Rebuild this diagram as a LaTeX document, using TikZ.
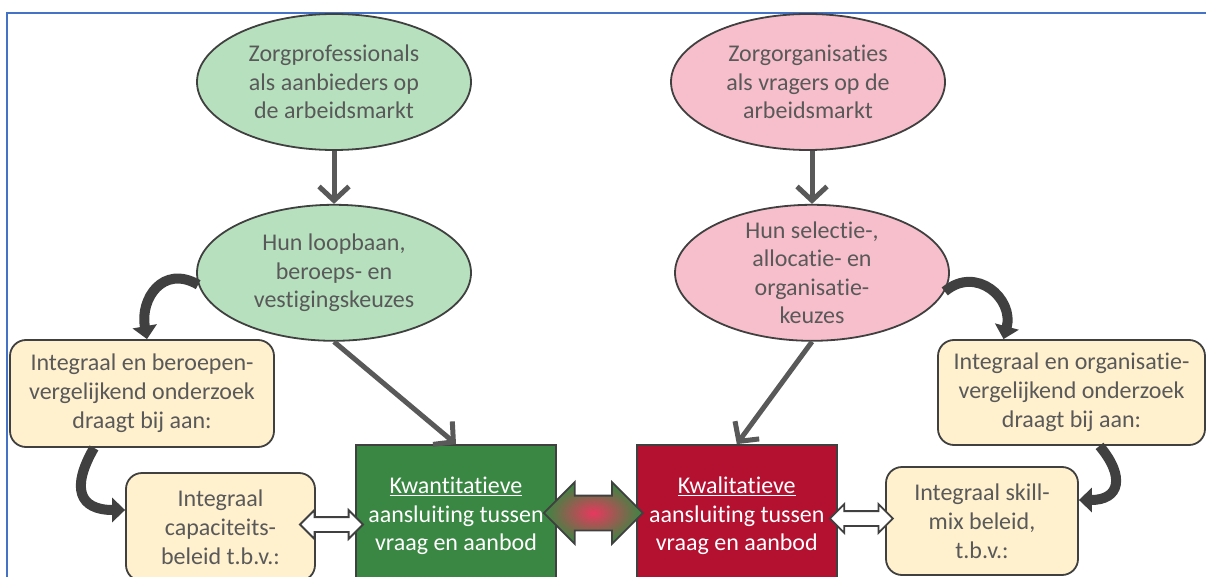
\documentclass[tikz,border=0pt]{standalone}
\usepackage{fontspec}
\setmainfont{Carlito}[RawFeature={-liga;-clig;-dlig;-calt}]
\usepackage{xcolor}
\usepackage{tikz}
\usetikzlibrary{positioning,arrows.meta,shapes.geometric,shapes.arrows,calc}

\definecolor{ellgreen}{RGB}{183,225,190}
\definecolor{ellpink}{RGB}{247,191,203}
\definecolor{boxbeige}{RGB}{255,240,206}
\definecolor{sqgreen}{RGB}{57,135,66}
\definecolor{sqred}{RGB}{180,16,48}
\definecolor{edgegray}{RGB}{64,64,64}
\definecolor{txtgray}{RGB}{89,89,89}
\definecolor{frameblue}{RGB}{68,114,196}
\definecolor{midpink}{RGB}{232,56,94}

\begin{document}
\begin{tikzpicture}[
    x=1pt, y=1pt,
    ell/.style={
        ellipse,
        draw=edgegray,
        line width=1.8pt,
        minimum width=274pt,
        minimum height=136pt,
        inner sep=0pt,
        align=center,
        text=txtgray,
        font=\fontsize{24}{28.5}\selectfont
    },
    box/.style={
        rectangle,
        rounded corners=16pt,
        draw=edgegray,
        line width=1.8pt,
        fill=boxbeige,
        align=center,
        text=txtgray,
        font=\fontsize{24}{29}\selectfont
    },
    sq/.style={
        rectangle,
        draw=edgegray,
        line width=1.8pt,
        minimum width=200pt,
        minimum height=142pt,
        align=center,
        text=white,
        font=\fontsize{24}{28.5}\selectfont
    },
    dbl/.style={
        double arrow,
        draw=edgegray,
        line width=1.8pt,
        double arrow tip angle=90,
        inner xsep=0pt
    },
    arrow/.style={
        -{Straight Barb[length=14pt,width=30pt]},
        line width=5pt,
        draw=txtgray
    },
    curvearrow/.style={
        -{Triangle[length=13pt,width=24pt]},
        line width=10pt,
        draw=edgegray
    }
]

\useasboundingbox (0,0) rectangle (1206,-577);
\clip (0,0) rectangle (1206,-577);

\draw[frameblue, line width=2.5pt] (7,-577) -- (7,-13) -- (1206,-13);

\node[ell, fill=ellgreen] (prof) at (334,-82)
{Zorgprofessionals\\als aanbieders op\\de arbeidsmarkt};

\node[ell, fill=ellgreen, below=53pt of prof] (loop)
{Hun loopbaan,\\beroeps- en\\vestigingskeuzes};

\node[ell, fill=ellpink] (org) at (808,-82)
{Zorgorganisaties\\als vragers op de\\arbeidsmarkt};

\node[ell, fill=ellpink, inner sep=-6pt, below=53pt of org, xshift=4pt] (keuze)
{Hun selectie-,\\allocatie- en\\organisatie-\\keuzes};

\node[box, minimum width=264pt, minimum height=107pt] (onderzL) at (142,-393.5)
{Integraal en beroepen-\\vergelijkend onderzoek\\draagt bij aan:};

\node[box, minimum width=189pt, minimum height=108pt] (capac) at (220.5,-527)
{Integraal\\capaciteits-\\beleid t.b.v.:};

\node[box, minimum width=267pt, minimum height=105pt] (onderzR) at (1071.5,-392.5)
{Integraal en organisatie-\\vergelijkend onderzoek\\draagt bij aan:};

\node[box, minimum width=192pt, minimum height=108pt] (skill) at (982,-521)
{Integraal skill-\\mix beleid,\\t.b.v.:};

\node[sq, fill=sqgreen] (kwant) at (456,-516)
{\underline{Kwantitatieve}\\aansluiting tussen\\vraag en aanbod};

\node[sq, fill=sqred, right=79pt of kwant] (kwal)
{\underline{Kwalitatieve}\\aansluiting tussen\\vraag en aanbod};

% block arrows between the boxes
\node[dbl, minimum height=99pt, inner ysep=16.5pt, double arrow head extend=13.5pt,
      shading=radial, inner color=midpink, outer color=sqgreen] (link)
      at ($(kwant.east)!0.5!(kwal.west)+(-3,3)$) {};
\node[dbl, fill=white, minimum height=63pt, inner ysep=6.5pt, double arrow head extend=7pt] (linkL)
      at ($(capac.east)!0.5!(kwant.west)+(-4,-3)$) {};
\node[dbl, fill=white, minimum height=63pt, inner ysep=6.5pt, double arrow head extend=7pt] (linkR)
      at ($(kwal.east)!0.5!(skill.west)$) {};

\draw[arrow] (prof) -- (loop);
\draw[arrow] (keuze.north |- org.south) -- (keuze.north);
\draw[arrow] (loop.south) -- (kwant.north);
\draw[arrow] (keuze.south) -- (kwal.north);

\draw[curvearrow] (loop.185) to[out=150, in=100, looseness=1.4] ([xshift=5pt]onderzL.north);
\draw[curvearrow] ([xshift=-48pt]onderzL.south) to[out=240, in=180, looseness=1.7] ([yshift=17pt]capac.west);
\draw[curvearrow] (keuze.352) to[out=40, in=75, looseness=1.4] ([xshift=-68pt]onderzR.north);
\draw[curvearrow] ([xshift=28pt]onderzR.south) to[out=-50, in=0, looseness=1.8] ([yshift=21pt]skill.east);

\end{tikzpicture}
\end{document}
